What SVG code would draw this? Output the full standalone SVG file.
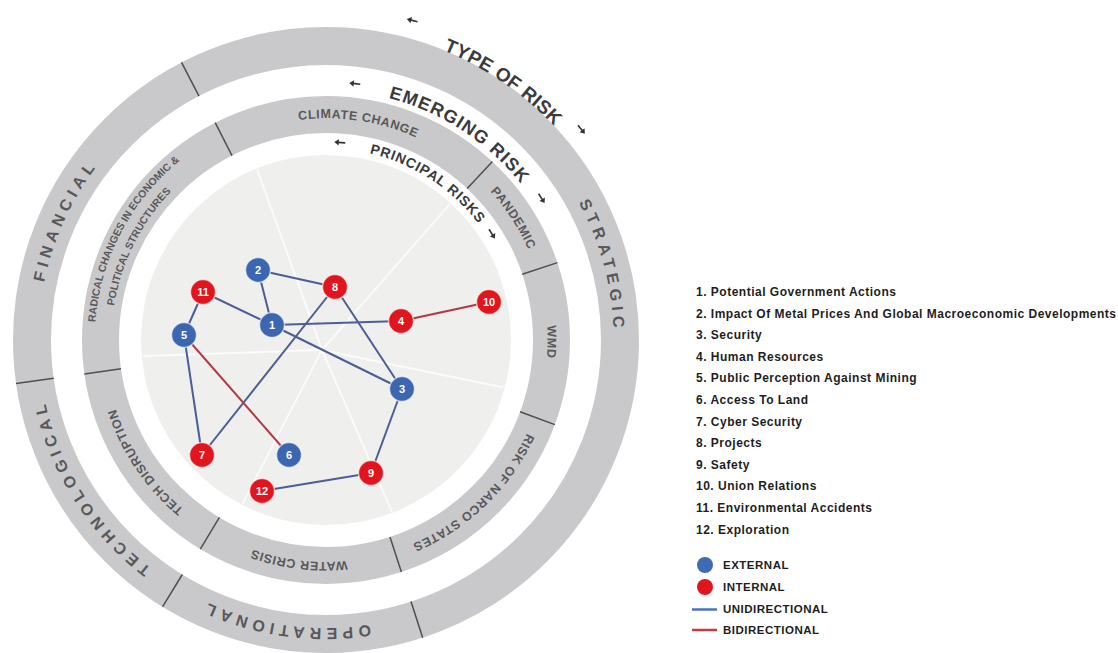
<svg xmlns="http://www.w3.org/2000/svg" width="1118" height="653" viewBox="0 0 1118 653">
<style>
.ring{fill:none;stroke:#c9c9cb}
.div{stroke:#4f4f51;stroke-width:1.5}
.spoke{stroke:#ffffff;stroke-width:2;opacity:.8}
.outer{font-family:"Liberation Sans",Arial,sans-serif;font-weight:700;font-size:16px;letter-spacing:5px;fill:#58585a}
.emg{font-family:"Liberation Sans",Arial,sans-serif;font-weight:700;font-size:12.5px;letter-spacing:.6px;fill:#59595b}
.rad{font-family:"Liberation Sans",Arial,sans-serif;font-weight:700;font-size:10.5px;fill:#59595b}
.hdr{font-family:"Liberation Sans",Arial,sans-serif;font-weight:700;fill:#3b3b3d}
.e{stroke-width:2;fill:none}
.eb{stroke:#4d5d95}
.er{stroke:#b23a45}
.nb{fill:#3d66b1}
.nr{fill:#e1151e}
.n circle{stroke:#ffffff;stroke-opacity:.6;stroke-width:1.5}
.n text{font-family:"Liberation Sans",Arial,sans-serif;font-weight:700;font-size:11px;fill:#ffffff;text-anchor:middle}
.lg{font-family:"Liberation Sans",Arial,sans-serif;font-weight:700;font-size:12px;letter-spacing:.5px;fill:#1e1e1e}
.lk{font-family:"Liberation Sans",Arial,sans-serif;font-weight:700;font-size:11.5px;letter-spacing:.5px;fill:#1e1e1e}
</style>
<defs>
<g id="arL"><line x1="-2" y1="0" x2="5.5" y2="0" stroke="#333333" stroke-width="1.6"/><polygon points="-5.5,0 -1,-3.2 -1,3.2" fill="#333333"/></g>
<path id="pFin" d="M183.8,590.4 A288,288 0 0 1 422.6,68.7"/>
<path id="pStr" d="M276.0,56.4 A288,288 0 0 1 424.5,610.6"/>
<path id="pTec" d="M457.6,596.1 A288,288 0 0 1 151.9,110.6"/>
<path id="pOpe" d="M606.5,405.3 A288,288 0 0 1 38.4,324.4"/>
<path id="pCli" d="M110.6,288.3 A221.5,221.5 0 0 1 547.1,353.5"/>
<path id="pPan" d="M222.0,144.4 A221.5,221.5 0 0 1 462.4,514.5"/>
<path id="pWmd" d="M347.2,119.5 A221.5,221.5 0 0 1 343.4,560.8"/>
<path id="pNar" d="M498.1,200.6 A221.5,221.5 0 0 1 180.7,507.2"/>
<path id="pWat" d="M542.7,386.1 A221.5,221.5 0 0 1 104.6,332.3"/>
<path id="pTdi" d="M433.4,533.7 A221.5,221.5 0 0 1 186.6,167.9"/>
<path id="pRa1" d="M201.5,534.6 A231,231 0 0 1 414.8,126.7"/>
<path id="pRa2" d="M213.7,523.3 A215,215 0 0 1 404.8,140.0"/>
<path id="pTyp" d="M78.4,138.4 A321,321 0 0 1 605.4,498.1"/>
<path id="pEme" d="M129.0,186.1 A250,250 0 0 1 546.7,457.4"/>
<path id="pPri" d="M174.7,221.8 A192,192 0 0 1 495.5,430.1"/>
</defs>
<rect width="1118" height="653" fill="#ffffff"/>
<g id="rings">
<circle class="ring" cx="326" cy="340" r="294" stroke-width="38"/>
<circle class="ring" cx="326" cy="340" r="225.5" stroke-width="37"/>
<circle cx="326" cy="340" r="185" fill="#efefed"/>
<g id="spokes">
<line class="spoke" x1="322" y1="350" x2="257.1" y2="169.4"/>
<line class="spoke" x1="322" y1="350" x2="449.9" y2="204.0"/>
<line class="spoke" x1="322" y1="350" x2="503.7" y2="387.6"/>
<line class="spoke" x1="322" y1="350" x2="391.9" y2="511.8"/>
<line class="spoke" x1="322" y1="350" x2="242.5" y2="503.9"/>
<line class="spoke" x1="322" y1="350" x2="142.7" y2="356.0"/>
</g>
<g id="dividers">
<line class="div" x1="199.0" y1="96.1" x2="181.5" y2="62.4"/>
<line class="div" x1="53.7" y1="378.3" x2="16.0" y2="383.6"/>
<line class="div" x1="182.3" y1="574.5" x2="162.5" y2="606.9"/>
<line class="div" x1="411.0" y1="601.6" x2="422.7" y2="637.7"/>
<line class="div" x1="232.0" y1="155.6" x2="215.2" y2="122.6"/>
<line class="div" x1="467.2" y1="188.6" x2="492.4" y2="161.5"/>
<line class="div" x1="522.3" y1="274.3" x2="557.4" y2="262.6"/>
<line class="div" x1="520.1" y1="411.8" x2="554.8" y2="424.6"/>
<line class="div" x1="390.0" y1="536.9" x2="401.4" y2="572.1"/>
<line class="div" x1="219.4" y1="517.4" x2="200.3" y2="549.2"/>
<line class="div" x1="121.0" y1="368.8" x2="84.4" y2="374.0"/>
</g>
<g id="ring-labels">
<text class="outer"><textPath href="#pFin" startOffset="50%" text-anchor="middle">FINANCIAL</textPath></text>
<text class="outer"><textPath href="#pStr" startOffset="50%" text-anchor="middle">STRATEGIC</textPath></text>
<text class="outer"><textPath href="#pTec" startOffset="50%" text-anchor="middle">TECHNOLOGICAL</textPath></text>
<text class="outer"><textPath href="#pOpe" startOffset="50%" text-anchor="middle">OPERATIONAL</textPath></text>
<text class="emg"><textPath href="#pCli" startOffset="50%" text-anchor="middle">CLIMATE CHANGE</textPath></text>
<text class="emg"><textPath href="#pPan" startOffset="50%" text-anchor="middle">PANDEMIC</textPath></text>
<text class="emg" letter-spacing="3"><textPath href="#pWmd" startOffset="50%" text-anchor="middle">WMD</textPath></text>
<text class="emg"><textPath href="#pNar" startOffset="50%" text-anchor="middle">RISK OF NARCO STATES</textPath></text>
<text class="emg"><textPath href="#pWat" startOffset="50%" text-anchor="middle">WATER CRISIS</textPath></text>
<text class="emg"><textPath href="#pTdi" startOffset="50%" text-anchor="middle">TECH DISRUPTION</textPath></text>
<text class="rad"><textPath href="#pRa1" startOffset="50%" text-anchor="middle">RADICAL CHANGES IN ECONOMIC &amp;</textPath></text>
<text class="rad"><textPath href="#pRa2" startOffset="50%" text-anchor="middle">POLITICAL STRUCTURES</textPath></text>
</g>
<g id="headers">
<text class="hdr" font-size="19" letter-spacing="0.3"><textPath href="#pTyp" startOffset="50%" text-anchor="middle">TYPE OF RISK</textPath></text>
<text class="hdr" font-size="18" letter-spacing="1.2"><textPath href="#pEme" startOffset="50%" text-anchor="middle">EMERGING RISK</textPath></text>
<text class="hdr" font-size="14" letter-spacing="0.8"><textPath href="#pPri" startOffset="50%" text-anchor="middle">PRINCIPAL RISKS</textPath></text>
<use href="#arL" transform="translate(412.2,20.4) rotate(15.1)"/>
<use href="#arL" transform="translate(581.4,129.4) rotate(230.5)"/>
<use href="#arL" transform="translate(354.8,83.6) rotate(6.4)"/>
<use href="#arL" transform="translate(541.6,198.4) rotate(236.7)"/>
<use href="#arL" transform="translate(339.8,142.5) rotate(4)"/>
<use href="#arL" transform="translate(492.0,233.9) rotate(237.4)"/>
</g>
</g>
<g id="connectors">
<line class="e eb" x1="258" y1="270" x2="335" y2="287"/>
<line class="e eb" x1="258" y1="270" x2="272" y2="325"/>
<line class="e eb" x1="203" y1="292" x2="272" y2="325"/>
<line class="e eb" x1="203" y1="292" x2="184" y2="335"/>
<line class="e eb" x1="272" y1="325" x2="401" y2="321"/>
<line class="e eb" x1="272" y1="325" x2="402" y2="389"/>
<line class="e eb" x1="335" y1="287" x2="402" y2="389"/>
<line class="e eb" x1="335" y1="287" x2="202" y2="455"/>
<line class="e eb" x1="184" y1="335" x2="202" y2="455"/>
<line class="e eb" x1="402" y1="389" x2="371" y2="473"/>
<line class="e eb" x1="371" y1="473" x2="262" y2="491"/>
<line class="e er" x1="184" y1="335" x2="289" y2="455"/>
<line class="e er" x1="401" y1="321" x2="489" y2="302"/>
</g>
<g id="node-1" class="n"><circle class="nb" cx="272" cy="325" r="12.5"/><text x="272" y="329">1</text></g>
<g id="node-2" class="n"><circle class="nb" cx="258" cy="270" r="12.5"/><text x="258" y="274">2</text></g>
<g id="node-3" class="n"><circle class="nb" cx="402" cy="389" r="12.5"/><text x="402" y="393">3</text></g>
<g id="node-4" class="n"><circle class="nr" cx="401" cy="321" r="12.5"/><text x="401" y="325">4</text></g>
<g id="node-5" class="n"><circle class="nb" cx="184" cy="335" r="12.5"/><text x="184" y="339">5</text></g>
<g id="node-6" class="n"><circle class="nb" cx="289" cy="455" r="12.5"/><text x="289" y="459">6</text></g>
<g id="node-7" class="n"><circle class="nr" cx="202" cy="455" r="12.5"/><text x="202" y="459">7</text></g>
<g id="node-8" class="n"><circle class="nr" cx="335" cy="287" r="12.5"/><text x="335" y="291">8</text></g>
<g id="node-9" class="n"><circle class="nr" cx="371" cy="473" r="12.5"/><text x="371" y="477">9</text></g>
<g id="node-10" class="n"><circle class="nr" cx="489" cy="302" r="12.5"/><text x="489" y="306">10</text></g>
<g id="node-11" class="n"><circle class="nr" cx="203" cy="292" r="12.5"/><text x="203" y="296">11</text></g>
<g id="node-12" class="n"><circle class="nr" cx="262" cy="491" r="12.5"/><text x="262" y="495">12</text></g>
<g id="legend">
<text class="lg" x="696" y="296">1. Potential Government Actions</text>
<text class="lg" x="696" y="317.6">2. Impact Of Metal Prices And Global Macroeconomic Developments</text>
<text class="lg" x="696" y="339.2">3. Security</text>
<text class="lg" x="696" y="360.8">4. Human Resources</text>
<text class="lg" x="696" y="382.4">5. Public Perception Against Mining</text>
<text class="lg" x="696" y="404">6. Access To Land</text>
<text class="lg" x="696" y="425.6">7. Cyber Security</text>
<text class="lg" x="696" y="447.2">8. Projects</text>
<text class="lg" x="696" y="468.8">9. Safety</text>
<text class="lg" x="696" y="490.4">10. Union Relations</text>
<text class="lg" x="696" y="512">11. Environmental Accidents</text>
<text class="lg" x="696" y="533.6">12. Exploration</text>
<circle cx="705" cy="565" r="8" fill="#3f6ab5"/>
<text class="lk" x="723" y="569">EXTERNAL</text>
<circle cx="705" cy="587" r="8" fill="#e1151e"/>
<text class="lk" x="723" y="591">INTERNAL</text>
<line x1="692" y1="609.5" x2="717" y2="609.5" stroke="#4a72bf" stroke-width="2.5"/>
<text class="lk" x="723" y="613">UNIDIRECTIONAL</text>
<line x1="692" y1="630" x2="717" y2="630" stroke="#c83a42" stroke-width="2.5"/>
<text class="lk" x="723" y="634">BIDIRECTIONAL</text>
</g>
</svg>
